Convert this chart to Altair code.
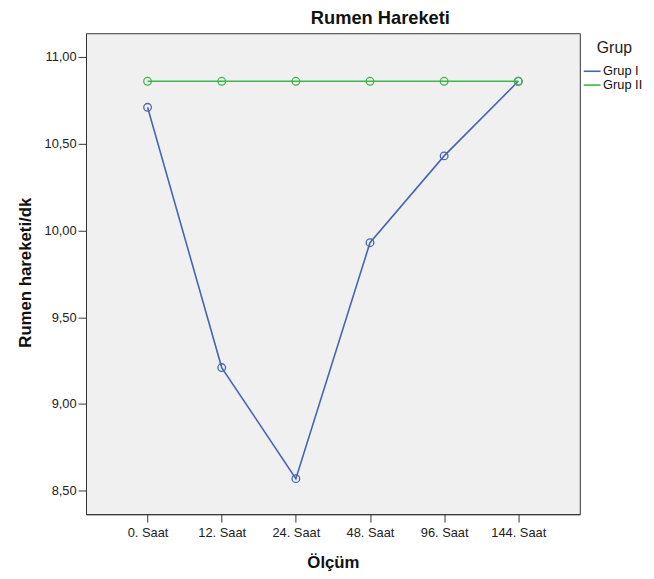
import altair as alt
import pandas as pd

olcum = ["0. Saat", "12. Saat", "24. Saat", "48. Saat", "96. Saat", "144. Saat"]
grup_1 = [10.71, 9.21, 8.57, 9.93, 10.43, 10.86]
grup_2 = [10.86, 10.86, 10.86, 10.86, 10.86, 10.86]
groups = ["Grup I", "Grup II"]
y_ticks = [8.5, 9.0, 9.5, 10.0, 10.5, 11.0]
colors = ["#4466b0", "#3db54a"]

rows = []
for g, vals in zip(groups, [grup_1, grup_2]):
    for o, v in zip(olcum, vals):
        rows.append({"Ölçüm": o, "Grup": g, "value": v})
df = pd.DataFrame(rows)

FONT = "Liberation Sans"

x_enc = alt.X(
    "Ölçüm:N",
    sort=olcum,
    scale=alt.Scale(type="point", padding=0.83),
    axis=alt.Axis(
        title="Ölçüm",
        labelAngle=0,
        labelFont=FONT,
        labelFontSize=13,
        labelColor="#222222",
        labelBaseline="alphabetic",
        labelPadding=15,
        tickSize=8,
        tickColor="#333333",
        domainColor="#333333",
        titleFont=FONT,
        titleFontSize=17,
        titleFontWeight="bold",
        titleColor="#111111",
        titleBaseline="alphabetic",
        titleY=54,
        grid=False,
    ),
)
y_enc = alt.Y(
    "value:Q",
    scale=alt.Scale(domain=[8.365, 11.137], nice=False, zero=False),
    axis=alt.Axis(
        title="Rumen hareketi/dk",
        values=y_ticks,
        labelExpr="replace(format(datum.value, '.2f'), '.', ',')",
        labelFont=FONT,
        labelFontSize=13,
        labelColor="#222222",
        labelPadding=2,
        tickSize=8,
        tickColor="#333333",
        domainColor="#333333",
        titleFont=FONT,
        titleFontSize=17,
        titleFontWeight="bold",
        titleColor="#111111",
        titleBaseline="alphabetic",
        titleAngle=270,
        titleX=-56,
        titleY=242,
        grid=False,
    ),
)
color_scale = alt.Scale(domain=groups, range=colors)

lines = alt.Chart(df).mark_line(strokeWidth=1.6).encode(
    x=x_enc,
    y=y_enc,
    color=alt.Color(
        "Grup:N",
        scale=color_scale,
        legend=alt.Legend(
            title="Grup",
            orient="none",
            legendX=506,
            legendY=7,
            padding=0,
            symbolType="M-1.7,0H1.7",
            symbolSize=100,
            symbolStrokeWidth=1.6,
            titleFont=FONT,
            titleFontSize=16,
            titleFontWeight="normal",
            titleColor="#222222",
            titleAnchor="middle",
            titleBaseline="top",
            titlePadding=9,
            labelFont=FONT,
            labelFontSize=13,
            labelColor="#111111",
            labelOffset=4.5,
            rowPadding=0,
        ),
    ),
)
points = alt.Chart(df).mark_point(
    shape="circle", filled=False, size=60, strokeWidth=1.3, opacity=1
).encode(
    x=x_enc,
    y=y_enc,
    color=alt.Color("Grup:N", scale=color_scale, legend=None),
)

chart = (
    alt.layer(lines, points)
    .properties(
        width=500,
        height=487,
        padding={"left": 79, "top": 22, "right": 67, "bottom": 57},
        autosize=alt.AutoSizeParams(type="none"),
        background="white",
        title=alt.TitleParams(
            "Rumen Hareketi",
            font=FONT,
            fontSize=18.5,
            fontWeight="bold",
            color="#111111",
            anchor="middle",
            frame="group",
            baseline="alphabetic",
            offset=6,
            dx=48,
            dy=15,
        ),
    )
    .configure_view(fill="#f0f0f0", stroke="#333333", strokeWidth=1)
)

chart.save("out.html", embed_options={"renderer": "svg", "actions": False})
